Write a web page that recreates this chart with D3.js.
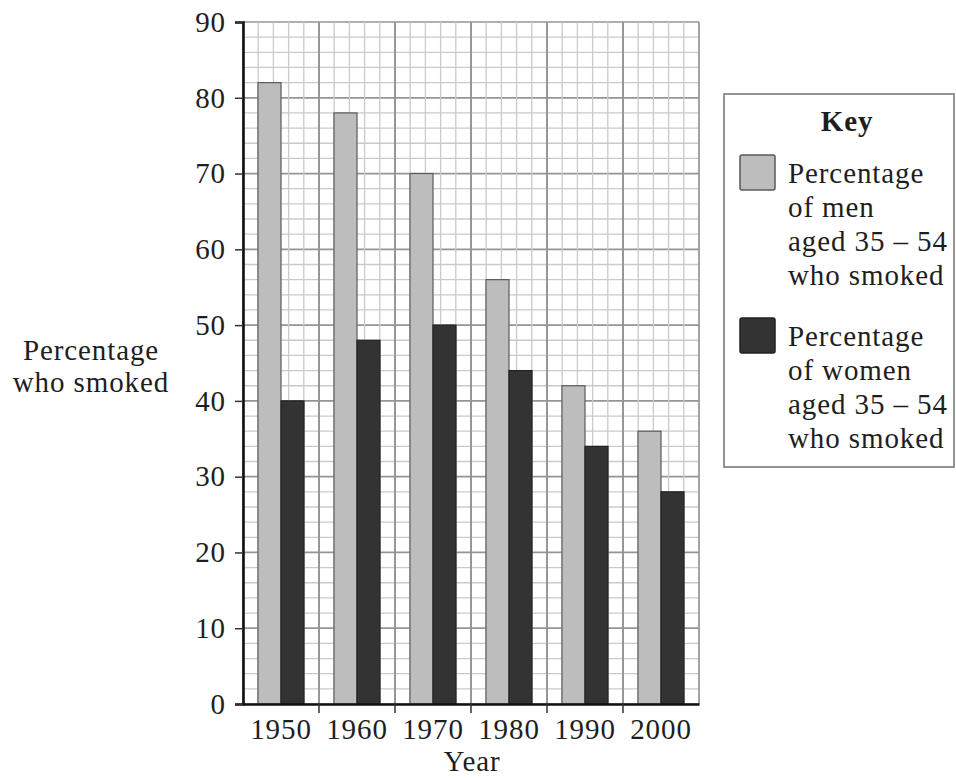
<!DOCTYPE html>
<html><head><meta charset="utf-8">
<script src="https://cdn.jsdelivr.net/npm/d3@7"></script>
<style>body{margin:0;background:#fff}svg{display:block}text{font-family:"Liberation Serif","Times New Roman",serif;fill:#1e1e1e;letter-spacing:0.9px}</style>
</head><body><svg id="c" width="956" height="778"></svg>
<script>
const years = ["1950","1960","1970","1980","1990","2000"];
const men = [82,78,70,56,42,36];
const women = [40,48,50,44,34,28];
const yTicks = [0,10,20,30,40,50,60,70,80,90];
const seriesKeys = ["men","women"];
const legendLines = [
  ["Percentage","of men","aged 35 – 54","who smoked"],
  ["Percentage","of women","aged 35 – 54","who smoked"]
];

const svg = d3.select("#c");
const L = 243, R = 699, T = 22, B = 704;
const FS = 29;
const x = d3.scaleBand().domain(years).range([L, R]).padding(0);
const x1 = d3.scaleBand().domain(seriesKeys).range([0, x.bandwidth()]).paddingInner(0).paddingOuter(0.65);
const y = d3.scaleLinear().domain([0, 90]).range([B, T]);
const fills = {men:"#bdbdbd", women:"#333333"};
const strokes = {men:"#5a5a5a", women:"#222"};

// grid
const g = svg.append("g");
d3.range(0, 91, 2).forEach(v => {
  g.append("line").attr("x1", L).attr("x2", R).attr("y1", y(v)).attr("y2", y(v))
    .attr("stroke", v % 10 === 0 ? "#959595" : "#cacaca").attr("stroke-width", v % 10 === 0 ? 1.7 : 1.3);
});
years.forEach(yr => {
  for (let i = 0; i <= 5; i++) {
    const xx = x(yr) + i * x.bandwidth() / 5;
    g.append("line").attr("x1", xx).attr("x2", xx).attr("y1", T).attr("y2", B)
      .attr("stroke", (i === 0 || i === 5) ? "#959595" : "#cacaca").attr("stroke-width", (i === 0 || i === 5) ? 1.7 : 1.3);
  }
});

// bars
const data = years.map((yr, i) => ({year: yr, men: men[i], women: women[i]}));
const grp = svg.append("g").selectAll("g").data(data).join("g")
  .attr("transform", d => `translate(${x(d.year)},0)`);
grp.selectAll("rect").data(d => seriesKeys.map(k => ({k, v: d[k]}))).join("rect")
  .attr("x", d => x1(d.k)).attr("width", x1.bandwidth())
  .attr("y", d => y(d.v)).attr("height", d => y(0) - y(d.v))
  .attr("fill", d => fills[d.k]).attr("stroke", d => strokes[d.k]).attr("stroke-width", 1.2);

// axes
const ya = svg.append("g").attr("transform", `translate(${L},0)`)
  .call(d3.axisLeft(y).tickValues(yTicks).tickSize(8).tickPadding(9));
ya.select(".domain").attr("stroke", "#111").attr("stroke-width", 2.6);
ya.selectAll(".tick line").attr("stroke", "#333").attr("stroke-width", 1.5);
ya.selectAll("text").attr("font-size", FS).attr("fill", "#1e1e1e").attr("font-family", "Liberation Serif");

const xa = svg.append("g").attr("transform", `translate(0,${B})`)
  .call(d3.axisBottom(x).tickSize(0).tickPadding(14));
xa.select(".domain").attr("stroke", "#111").attr("stroke-width", 2.6);
xa.selectAll("text").attr("font-size", FS).attr("fill", "#1e1e1e").attr("font-family", "Liberation Serif");
// ticks at band boundaries
svg.append("g").selectAll("line").data(years.slice(1)).join("line")
  .attr("x1", d => x(d)).attr("x2", d => x(d)).attr("y1", B).attr("y2", B + 9)
  .attr("stroke", "#333").attr("stroke-width", 1.5);

svg.append("text").attr("x", 472).attr("y", 771).attr("text-anchor", "middle")
  .attr("font-size", FS).text("Year");
svg.append("text").attr("x", 91).attr("y", 360).attr("text-anchor", "middle").attr("font-size", FS).text("Percentage");
svg.append("text").attr("x", 91).attr("y", 392).attr("text-anchor", "middle").attr("font-size", FS).text("who smoked");

// legend
const lg = svg.append("g");
lg.append("rect").attr("x", 724).attr("y", 94).attr("width", 230).attr("height", 373)
  .attr("fill", "#fff").attr("stroke", "#888").attr("stroke-width", 1.8);
lg.append("text").attr("x", 847).attr("y", 131).attr("text-anchor", "middle")
  .attr("font-size", FS).attr("font-weight", "bold").text("Key");
seriesKeys.forEach((k, i) => {
  const top = 155 + i * 163;
  lg.append("rect").attr("x", 740).attr("y", top).attr("width", 35).attr("height", 35)
    .attr("fill", fills[k]).attr("stroke", strokes[k]).attr("stroke-width", 1.5).attr("rx", 2);
  legendLines[i].forEach((t, j) => {
    lg.append("text").attr("x", 788).attr("y", top + 28 + j * 34).attr("font-size", FS).text(t);
  });
});
</script></body></html>
